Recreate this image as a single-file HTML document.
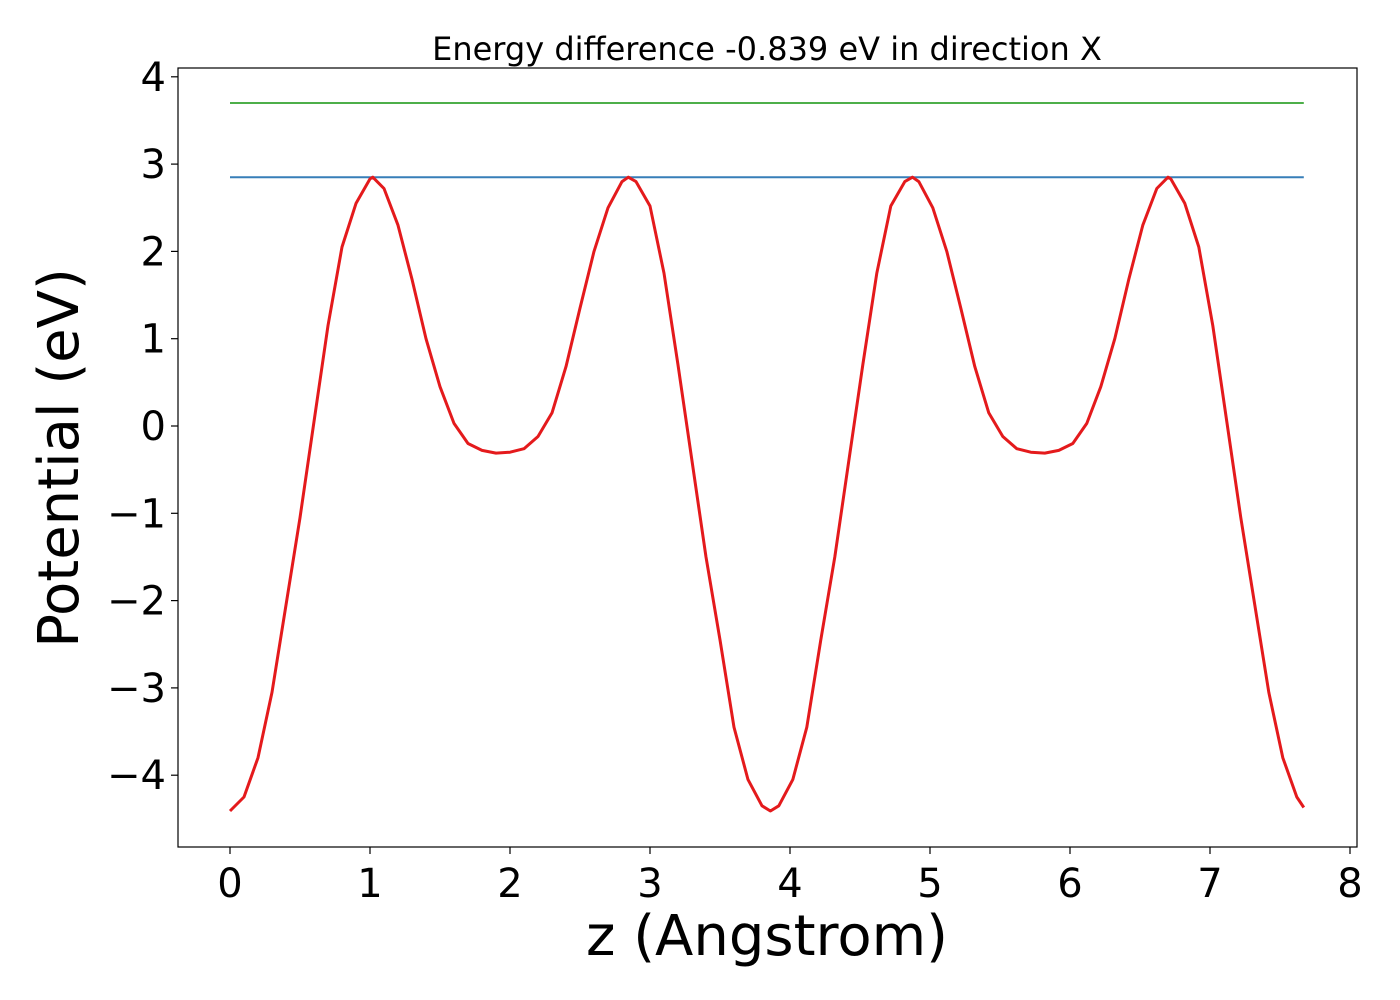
<!DOCTYPE html>
<html><head><meta charset="utf-8"><style>body{margin:0;background:#fff}svg{display:block;font-family:"DejaVu Sans","Liberation Sans",sans-serif}</style></head>
<body>
<svg id="chart" width="1400" height="1000" viewBox="0 0 1400 1000"></svg>
<script>
const zValues=[0,0.1,0.2,0.3,0.4,0.5,0.6,0.7,0.8,0.9,1.0,1.02,1.1,1.2,1.3,1.4,1.5,1.6,1.7,1.8,1.9,2.0,2.1,2.2,2.3,2.4,2.5,2.6,2.7,2.8,2.845,2.9,3.0,3.1,3.2,3.3,3.4,3.5,3.6,3.7,3.8,3.86,3.92,4.02,4.12,4.22,4.32,4.42,4.52,4.62,4.72,4.82,4.875,4.92,5.02,5.12,5.22,5.32,5.42,5.52,5.62,5.72,5.82,5.92,6.02,6.12,6.22,6.32,6.42,6.52,6.62,6.70,6.72,6.82,6.92,7.02,7.12,7.22,7.32,7.42,7.52,7.62,7.67];
const potential=[-4.41,-4.25,-3.8,-3.05,-2.05,-1.05,0.05,1.15,2.05,2.55,2.83,2.85,2.72,2.3,1.68,1.0,0.45,0.03,-0.2,-0.28,-0.31,-0.3,-0.26,-0.12,0.15,0.68,1.35,2.0,2.5,2.8,2.85,2.8,2.52,1.75,0.7,-0.4,-1.5,-2.45,-3.45,-4.05,-4.35,-4.41,-4.35,-4.05,-3.45,-2.45,-1.5,-0.4,0.7,1.75,2.52,2.8,2.85,2.8,2.5,2.0,1.35,0.68,0.15,-0.12,-0.26,-0.3,-0.31,-0.28,-0.2,0.03,0.45,1.0,1.68,2.3,2.72,2.85,2.83,2.55,2.05,1.15,0.05,-1.05,-2.05,-3.05,-3.8,-4.25,-4.37];
const levelBlue=2.85, levelGreen=3.70, levelStart=0, levelEnd=7.67;
const xTicks=[0,1,2,3,4,5,6,7,8];
const yTicks=[-4,-3,-2,-1,0,1,2,3,4];
const title="Energy difference -0.839 eV in direction X";

const NS="http://www.w3.org/2000/svg", svg=document.getElementById('chart');
const L=178,R=1357,T=68,B=847;
const X=v=>230+v*140, Y=v=>426-v*87.3;
function mk(tag,attrs,parent){const e=document.createElementNS(NS,tag);for(const k in attrs)e.setAttribute(k,attrs[k]);(parent||svg).appendChild(e);return e;}
const t=mk('text',{x:767,y:60,'text-anchor':'middle','font-size':32});t.textContent=title;


const g=mk('line',{x1:X(levelStart),x2:X(levelEnd),y1:Y(levelGreen),y2:Y(levelGreen),stroke:'#4daf4a','stroke-width':2});


const b=mk('line',{x1:X(levelStart),x2:X(levelEnd),y1:Y(levelBlue),y2:Y(levelBlue),stroke:'#377eb8','stroke-width':2});


const pts=zValues.map((z,i)=>X(z).toFixed(1)+','+Y(potential[i]).toFixed(1)).join(' ');
const c=mk('polyline',{points:pts,fill:'none',stroke:'#e41a1c','stroke-width':3,'stroke-linejoin':'round'});


const fr=mk('rect',{x:L,y:T,width:R-L,height:B-T,fill:'none',stroke:'#000','stroke-width':1.2});


xTicks.forEach(v=>{
  const l=mk('line',{x1:X(v),x2:X(v),y1:B,y2:B+7,stroke:'#000','stroke-width':1.2});
  
  
  const tx=mk('text',{x:X(v),y:B+50,'text-anchor':'middle','font-size':40});tx.textContent=v;
  
  
});
yTicks.forEach(v=>{
  const l=mk('line',{x1:L-7,x2:L,y1:Y(v),y2:Y(v),stroke:'#000','stroke-width':1.2});
  
  
  const tx=mk('text',{x:L-12,y:Y(v)+14,'text-anchor':'end','font-size':40});tx.textContent=(v<0?'\u2212'+(-v):v);
  
  
});
const xl=mk('text',{x:767,y:955,'text-anchor':'middle','font-size':56});xl.textContent='z (Angstrom)';


const yl=mk('text',{x:0,y:0,'text-anchor':'middle','font-size':56,transform:'translate(78,458) rotate(-90)'});yl.textContent='Potential (eV)';


</script>
</body></html>
